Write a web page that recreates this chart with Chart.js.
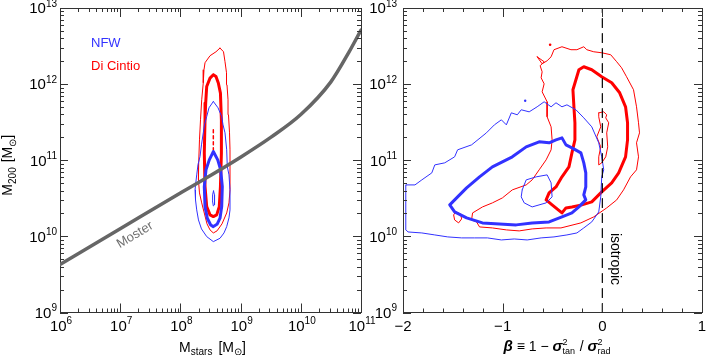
<!DOCTYPE html>
<html><head><meta charset="utf-8">
<script src="https://cdn.jsdelivr.net/npm/chart.js@4.4.0/dist/chart.umd.min.js"></script>
<style>
html,body{margin:0;padding:0;background:#fff;}
body{width:706px;height:355px;position:relative;overflow:hidden;}
.wrap{position:absolute;top:0;height:355px;}
#wa{left:0;width:385px;}
#wb{left:362px;width:344px;}
canvas{display:block;}
</style></head><body>
<div class="wrap" id="wa"><canvas id="ca" width="385" height="355"></canvas></div>
<div class="wrap" id="wb"><canvas id="cb" width="344" height="355"></canvas></div>
<script>
// ---------- data (log10 units for masses) ----------
const stellarTicks = [6, 7, 8, 9, 10, 11];
const haloTicks = [9, 10, 11, 12, 13];
const betaTicks = [-2, -1, 0, 1];
const betaTickLabels = ['\u22122', '\u22121', '0', '1'];

const mosterLogMstar = [6, 7, 8, 8.5, 9, 9.5, 10, 10.5, 10.8, 11];
const mosterLogM200 = [9.63, 10.10, 10.57, 10.80, 11.04, 11.30, 11.60, 12.03, 12.42, 12.71];

// left panel contours: [log Mstars, log M200]
const nfwOuterL = [[8.547,11.772],[8.475,11.689],[8.437,11.574],[8.400,11.465],[8.380,11.360],[8.350,11.202],[8.326,11.049],[8.292,10.939],[8.271,10.808],[8.243,10.611],[8.251,10.479],[8.271,10.348],[8.300,10.216],[8.350,10.098],[8.437,9.997],[8.547,9.931],[8.658,9.975],[8.724,10.045],[8.769,10.128],[8.807,10.243],[8.824,10.348],[8.824,10.611],[8.807,10.808],[8.779,10.917],[8.769,11.137],[8.741,11.360],[8.708,11.465],[8.686,11.574],[8.625,11.689]];
const nfwInnerL = [[8.547,11.114],[8.480,11.005],[8.425,10.874],[8.397,10.654],[8.409,10.391],[8.447,10.238],[8.503,10.150],[8.547,10.128],[8.613,10.164],[8.658,10.239],[8.686,10.391],[8.696,10.654],[8.669,10.874],[8.620,11.005]];
const nfwCoreL = [[8.550,10.598],[8.566,10.545],[8.571,10.479],[8.563,10.414],[8.547,10.400],[8.533,10.466],[8.535,10.545]];
const dcOuterL = [[8.658,12.474],[8.591,12.425],[8.492,12.373],[8.409,12.281],[8.392,12.189],[8.380,12.018],[8.354,11.794],[8.334,11.531],[8.317,11.268],[8.304,10.966],[8.300,10.742],[8.317,10.571],[8.354,10.440],[8.392,10.321],[8.442,10.164],[8.492,10.085],[8.547,10.045],[8.608,10.072],[8.691,10.164],[8.769,10.308],[8.807,10.440],[8.824,10.611],[8.824,10.874],[8.824,11.137],[8.816,11.360],[8.799,11.597],[8.791,11.794],[8.774,11.991],[8.766,12.149],[8.741,12.294],[8.716,12.425]];
const dcInnerL = [[8.547,12.123],[8.492,12.079],[8.437,11.969],[8.420,11.751],[8.409,11.531],[8.397,11.093],[8.409,10.654],[8.437,10.391],[8.492,10.282],[8.547,10.260],[8.603,10.282],[8.646,10.391],[8.665,10.654],[8.681,11.093],[8.681,11.531],[8.665,11.882],[8.630,12.014],[8.591,12.100]];
const dcCoreL = [[8.547,11.400],[8.547,11.137]];

// right panel contours: [beta, log M200]
const nfwOuterR = [[-1.970,10.676],[-1.880,10.676],[-1.811,10.742],[-1.711,10.834],[-1.681,10.939],[-1.581,10.966],[-1.482,11.045],[-1.452,11.137],[-1.312,11.202],[-1.163,11.360],[-1.083,11.465],[-1.013,11.531],[-0.963,11.465],[-0.913,11.623],[-0.853,11.597],[-0.814,11.663],[-0.734,11.636],[-0.654,11.702],[-0.584,11.768],[-0.514,11.702],[-0.465,11.755],[-0.405,11.702],[-0.355,11.728],[-0.265,11.663],[-0.186,11.557],[-0.106,11.439],[-0.036,11.229],[-0.006,11.045],[0.014,10.874],[-0.006,10.782],[-0.016,10.519],[-0.036,10.321],[-0.106,10.190],[-0.186,10.111],[-0.255,10.045],[-0.355,10.019],[-0.485,9.993],[-0.614,9.980],[-0.754,9.953],[-0.884,9.966],[-1.013,9.953],[-1.153,9.980],[-1.282,9.980],[-1.412,9.980],[-1.551,9.993],[-1.681,10.019],[-1.811,10.045],[-1.950,10.058],[-1.970,10.085],[-1.973,10.348],[-1.973,10.545]];
const nfwInnerR = [[-1.531,10.414],[-1.452,10.519],[-1.362,10.637],[-1.232,10.782],[-1.103,10.913],[-1.003,10.979],[-0.903,11.045],[-0.764,11.176],[-0.634,11.242],[-0.534,11.229],[-0.465,11.268],[-0.405,11.294],[-0.365,11.202],[-0.305,11.163],[-0.215,11.097],[-0.186,10.966],[-0.166,10.834],[-0.166,10.650],[-0.186,10.545],[-0.166,10.479],[-0.235,10.387],[-0.305,10.308],[-0.405,10.256],[-0.534,10.190],[-0.704,10.177],[-0.864,10.151],[-1.033,10.164],[-1.203,10.177],[-1.362,10.243],[-1.482,10.321]];
const nfwCoreR = [[-0.804,10.611],[-0.764,10.742],[-0.664,10.782],[-0.554,10.808],[-0.514,10.703],[-0.504,10.519],[-0.564,10.440],[-0.704,10.387],[-0.784,10.440],[-0.814,10.519]];
const nfwDotR = [[-0.774,11.781]];
const dcOuterR = [[-0.654,12.359],[-0.584,12.294],[-0.624,12.241],[-0.604,12.162],[-0.614,12.083],[-0.584,12.004],[-0.604,11.899],[-0.554,11.768],[-0.554,11.571],[-0.514,11.439],[-0.504,11.268],[-0.514,11.137],[-0.564,11.005],[-0.634,10.874],[-0.704,10.742],[-0.764,10.676],[-0.903,10.611],[-1.003,10.505],[-1.103,10.440],[-1.202,10.387],[-1.302,10.308],[-1.312,10.216],[-1.262,10.190],[-1.232,10.124],[-1.103,10.111],[-0.963,10.085],[-0.834,10.072],[-0.704,10.098],[-0.564,10.111],[-0.415,10.111],[-0.215,10.177],[-0.086,10.256],[0.044,10.374],[0.144,10.479],[0.213,10.611],[0.283,10.782],[0.343,10.874],[0.363,11.045],[0.343,11.229],[0.373,11.360],[0.363,11.492],[0.343,11.702],[0.313,11.926],[0.243,12.097],[0.193,12.215],[0.144,12.294],[0.084,12.386],[-0.006,12.412],[-0.086,12.425],[-0.156,12.452],[-0.186,12.491],[-0.255,12.452],[-0.315,12.452],[-0.405,12.491],[-0.485,12.452],[-0.514,12.359],[-0.554,12.307],[-0.604,12.267]];
const dcSmallR = [[-1.472,10.321],[-1.422,10.295],[-1.412,10.229],[-1.442,10.177],[-1.482,10.216],[-1.492,10.282]];
const dcCoreR = [[-0.036,11.623],[0.014,11.636],[0.044,11.597],[0.034,11.557],[0.064,11.492],[0.044,11.360],[0.054,11.176],[0.034,11.045],[-0.006,10.966],[-0.036,10.939],[-0.036,11.045],[-0.016,11.176],[-0.056,11.307],[-0.016,11.439],[-0.036,11.571]];
const dcInnerR = [[-0.564,10.479],[-0.504,10.414],[-0.405,10.308],[-0.365,10.374],[-0.305,10.387],[-0.205,10.414],[-0.106,10.453],[-0.006,10.584],[0.094,10.703],[0.164,10.834],[0.233,11.045],[0.253,11.268],[0.253,11.492],[0.233,11.702],[0.174,11.886],[0.094,12.018],[-0.006,12.097],[-0.106,12.189],[-0.186,12.228],[-0.235,12.189],[-0.265,12.057],[-0.295,11.926],[-0.285,11.702],[-0.275,11.492],[-0.275,11.268],[-0.305,11.097],[-0.335,10.913],[-0.405,10.782],[-0.465,10.650],[-0.534,10.571]];
const dcDotR = [[-0.524,12.517]];
const isoLine = [[0, 9], [0, 13]];

// ---------- style ----------
const FONT = '"Liberation Sans", Arial, Helvetica, sans-serif';
const BLUE = 'rgb(50,50,255)';
const RED = 'rgb(255,0,0)';
const AXIS = '#333';

function toXY(pts, closed) {
  const d = pts.map(p => ({x: p[0], y: p[1]}));
  if (closed) d.push({x: pts[0][0], y: pts[0][1]});
  return d;
}
function line(pts, color, width, closed, dash) {
  return {data: toXY(pts, closed), showLine: true, borderColor: color, borderWidth: width,
    pointRadius: 0, fill: false, tension: 0, borderJoinStyle: 'round', borderCapStyle: 'round',
    borderDash: dash || []};
}
function dot(pts, color, r) {
  return {data: toXY(pts, false), showLine: false, pointRadius: r, pointBackgroundColor: color,
    pointBorderWidth: 0, borderColor: color};
}

function segWidth(ctx, g) {
  if (g.sup !== undefined) {
    ctx.font = g.s + 'px ' + FONT;
    return Math.max(ctx.measureText(g.sup).width, ctx.measureText(g.sub).width) + 1;
  }
  ctx.font = (g.it ? 'italic ' : '') + (g.b ? 'bold ' : '') + g.s + 'px ' + FONT;
  return ctx.measureText(g.t).width + (g.gap || 0);
}
function drawRich(ctx, segs, x, y, align) {
  const ws = segs.map(g => segWidth(ctx, g));
  const total = ws.reduce((a, b) => a + b, 0);
  let cx = align === 'center' ? x - total / 2 : align === 'right' ? x - total : x;
  ctx.textAlign = 'left'; ctx.textBaseline = 'alphabetic';
  segs.forEach((g, i) => {
    if (g.sup !== undefined) {
      ctx.font = g.s + 'px ' + FONT;
      ctx.fillText(g.sup, cx, y - g.supDy);
      ctx.fillText(g.sub, cx, y + g.subDy);
    } else {
      ctx.font = (g.it ? 'italic ' : '') + (g.b ? 'bold ' : '') + g.s + 'px ' + FONT;
      ctx.fillText(g.t, cx, y + (g.dy || 0));
    }
    cx += ws[i];
  });
}
function powSegs(e) { return [{t: '10', s: 15}, {t: String(e), s: 10, dy: -6.5}]; }

function logMinor(majors) {
  const out = [];
  for (let i = 0; i < majors.length - 1; i++) for (let k = 2; k <= 9; k++) out.push(majors[i] + Math.log10(k));
  return out;
}
function drawTicks(chart, xMaj, xMin, yMaj, yMin) {
  const ctx = chart.ctx, a = chart.chartArea, xs = chart.scales.x, ys = chart.scales.y;
  ctx.save();
  ctx.strokeStyle = AXIS; ctx.lineWidth = 1;
  ctx.beginPath();
  const vx = (v, L) => { const p = Math.round(xs.getPixelForValue(v)) + 0.5;
    ctx.moveTo(p, a.bottom); ctx.lineTo(p, a.bottom - L); ctx.moveTo(p, a.top); ctx.lineTo(p, a.top + L); };
  const vy = (v, L) => { const p = Math.round(ys.getPixelForValue(v)) + 0.5;
    ctx.moveTo(a.left, p); ctx.lineTo(a.left + L, p); ctx.moveTo(a.right, p); ctx.lineTo(a.right - L, p); };
  xMaj.forEach(v => vx(v, 9)); xMin.forEach(v => vx(v, 4));
  yMaj.forEach(v => vy(v, 8)); yMin.forEach(v => vy(v, 4));
  ctx.stroke();
  ctx.restore();
}

function frameScales(xmin, xmax) {
  const base = (pos, horiz, min, max) => ({
    type: 'linear', position: pos, min: min, max: max, display: true,
    grid: {display: false, drawTicks: false}, ticks: {display: false},
    border: {display: true, color: AXIS, width: 1},
    afterFit: s => { if (horiz) s.height = 0; else s.width = 0; }
  });
  return {
    x: base('bottom', true, xmin, xmax), x2: base('top', true, xmin, xmax),
    y: base('left', false, 9, 13), y2: base('right', false, 9, 13)
  };
}

// ---------- left panel ----------
const mosterPts = mosterLogMstar.map((v, i) => [v, mosterLogM200[i]]);
const mosterDs = line(mosterPts, '#666', 3.5, false);
mosterDs.cubicInterpolationMode = 'monotone';
const leftPlugin = {
  id: 'leftDecor',
  afterDraw(chart) {
    const ctx = chart.ctx, a = chart.chartArea, xs = chart.scales.x, ys = chart.scales.y;
    drawTicks(chart, stellarTicks, logMinor(stellarTicks), haloTicks, logMinor(haloTicks));
    ctx.save();
    ctx.fillStyle = '#000';
    stellarTicks.forEach(e => drawRich(ctx, powSegs(e), xs.getPixelForValue(e) + 1, 330.5, 'center'));
    haloTicks.forEach(e => drawRich(ctx, powSegs(e), a.left - 3, ys.getPixelForValue(e) + 5.3, 'right'));
    // axis titles
    drawRich(ctx, [{t: 'M', s: 14}, {t: 'stars', s: 10, dy: 3.5, gap: 6}, {t: '[M', s: 14}, {t: '\u2299', s: 10, dy: 3.5}, {t: ']', s: 14}],
      (a.left + a.right) / 2 + 2, 351.5, 'center');
    ctx.save();
    ctx.translate(12, (a.top + a.bottom) / 2 + 5);
    ctx.rotate(-Math.PI / 2);
    drawRich(ctx, [{t: 'M', s: 14}, {t: '200', s: 10, dy: 3.5, gap: 5}, {t: '[M', s: 14}, {t: '\u2299', s: 10, dy: 3.5}, {t: ']', s: 14}], 0, 0, 'center');
    ctx.restore();
    // legend
    ctx.font = '13px ' + FONT; ctx.textAlign = 'left'; ctx.textBaseline = 'alphabetic';
    ctx.fillStyle = BLUE; ctx.fillText('NFW', 91, 47);
    ctx.fillStyle = RED; ctx.fillText('Di Cintio', 91, 69.5);
    // Moster label
    ctx.save();
    ctx.translate(135, 235); ctx.rotate(-31 * Math.PI / 180);
    ctx.fillStyle = '#707070'; ctx.font = '13px ' + FONT; ctx.textAlign = 'center'; ctx.textBaseline = 'middle';
    ctx.fillText('Moster', 0, 0);
    ctx.restore();
    ctx.restore();
  }
};
new Chart(document.getElementById('ca'), {
  type: 'scatter',
  data: {datasets: [
    mosterDs,
    line(nfwOuterL, BLUE, 1, true),
    line(nfwInnerL, BLUE, 3, true),
    line(nfwCoreL, BLUE, 1, true),
    line(dcOuterL, RED, 1, true),
    line(dcInnerL, RED, 3, true),
    line(dcCoreL, RED, 1.5, false, [3, 3])
  ]},
  options: {
    responsive: false, animation: false, events: [],
    layout: {padding: {left: 60, right: 24, top: 8, bottom: 42.5}},
    plugins: {legend: {display: false}, tooltip: {enabled: false}},
    scales: frameScales(6, 11)
  },
  plugins: [leftPlugin]
});

// ---------- right panel ----------
const betaMinor = [];
for (let i = 0; i <= 15; i++) { const v = -2 + i * 0.2; if (Math.abs(v - Math.round(v)) > 1e-6) betaMinor.push(v); }
const rightPlugin = {
  id: 'rightDecor',
  afterDraw(chart) {
    const ctx = chart.ctx, a = chart.chartArea, xs = chart.scales.x, ys = chart.scales.y;
    drawTicks(chart, betaTicks, betaMinor, haloTicks, logMinor(haloTicks));
    ctx.save();
    ctx.fillStyle = '#000';
    ctx.font = '15px ' + FONT; ctx.textAlign = 'center'; ctx.textBaseline = 'alphabetic';
    betaTicks.forEach((v, i) => ctx.fillText(betaTickLabels[i], xs.getPixelForValue(v), 330.5));
    haloTicks.forEach(e => drawRich(ctx, powSegs(e), a.left - 6, ys.getPixelForValue(e) + 5.3, 'right'));
    drawRich(ctx, [
      {t: '\u03b2', s: 15, it: true, b: true}, {t: ' \u2261 1 \u2212 ', s: 14},
      {t: '\u03c3', s: 15, it: true, b: true}, {sup: '2', sub: 'tan', s: 9, supDy: 6, subDy: 3},
      {t: ' / ', s: 14},
      {t: '\u03c3', s: 15, it: true, b: true}, {sup: '2', sub: 'rad', s: 9, supDy: 6, subDy: 3}
    ], (a.left + a.right) / 2 + 5, 350.5, 'center');
    // isotropic label
    ctx.save();
    ctx.translate(xs.getPixelForValue(0) + 13, 259);
    ctx.rotate(Math.PI / 2);
    ctx.font = '14px ' + FONT; ctx.textAlign = 'center'; ctx.textBaseline = 'middle';
    ctx.fillText('isotropic', 0, 0);
    ctx.restore();
    ctx.restore();
  }
};
new Chart(document.getElementById('cb'), {
  type: 'scatter',
  data: {datasets: [
    line(isoLine, '#000', 1.2, false, [9, 6]),
    line(nfwOuterR, BLUE, 1, true),
    line(nfwInnerR, BLUE, 3, true),
    line(nfwCoreR, BLUE, 1, true),
    dot(nfwDotR, BLUE, 1.2),
    line(dcOuterR, RED, 1, true),
    line(dcSmallR, RED, 1, true),
    line(dcCoreR, RED, 1, true),
    line(dcInnerR, RED, 3, true),
    dot(dcDotR, RED, 1.3)
  ]},
  options: {
    responsive: false, animation: false, events: [],
    layout: {padding: {left: 41, right: 2, top: 8, bottom: 42.5}},
    plugins: {legend: {display: false}, tooltip: {enabled: false}},
    scales: frameScales(-2, 1)
  },
  plugins: [rightPlugin]
});
</script>
</body></html>
